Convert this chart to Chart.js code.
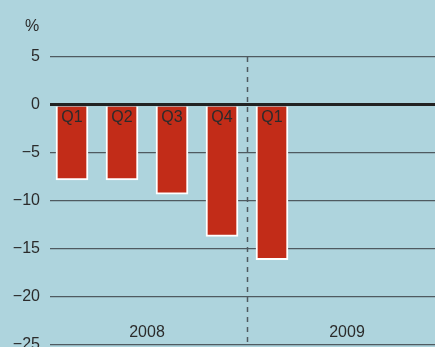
<!DOCTYPE html>
<html>
<head>
<meta charset="utf-8">
<script src="https://cdn.jsdelivr.net/npm/chart.js@4.4.1/dist/chart.umd.min.js"></script>
<style>
  html, body { margin: 0; padding: 0; background: #aed4dd; }
  #wrap { width: 435px; height: 347px; position: relative; }
</style>
</head>
<body>
<div id="wrap"><canvas id="chart1"></canvas></div>
<script>
// quarterly change, %
const quarters = ['Q1', 'Q2', 'Q3', 'Q4', 'Q1'];
const values = [-7.8, -7.8, -9.3, -13.7, -16.1];
const years = ['2008', '2009'];
const yearCenters = [1.5, 5.5];   // in quarter slots
const yearSplit = 3.5;
const yTicks = [5, 0, -5, -10, -15, -20, -25];

const txt = '#2b2b2b';
const fontFam = '"Liberation Sans", Arial, sans-serif';

const extras = {
    id: 'extras',
    afterDatasetsDraw(chart) {
        const c = chart.ctx;
        const xs = chart.scales.x, ys = chart.scales.y;
        const area = chart.chartArea;
        c.save();
        // dashed separator between years
        const sx = Math.round(xs.getPixelForValue(yearSplit)) + 0.5;
        c.strokeStyle = '#4f5a60';
        c.lineWidth = 1.5;
        c.setLineDash([5, 5]);
        c.beginPath();
        c.moveTo(sx, ys.getPixelForValue(5));
        c.lineTo(sx, area.bottom);
        c.stroke();
        c.setLineDash([]);

        c.fillStyle = txt;
        c.font = '16px ' + fontFam;
        c.textAlign = 'center';
        c.textBaseline = 'middle';
        // quarter names inside bars
        const meta = chart.getDatasetMeta(0);
        meta.data.forEach((bar, i) => {
            c.fillText(quarters[i], bar.x, ys.getPixelForValue(0) + 13);
        });
        // year labels
        years.forEach((y, i) => {
            c.fillText(y, xs.getPixelForValue(yearCenters[i]), 333);
        });
        // unit
        c.fillText('%', 32, 27);
        c.restore();
    }
};

new Chart(document.getElementById('chart1'), {
    type: 'bar',
    data: {
        datasets: [{
            data: values.map((v, i) => ({ x: i, y: v })),
            backgroundColor: '#c22c18',
            borderColor: '#ffffff',
            borderWidth: 2,
            barThickness: 32
        }]
    },
    options: {
        responsive: true,
        maintainAspectRatio: false,
        animation: false,
        layout: { padding: { top: 57, bottom: 2, left: 0, right: 0 } },
        plugins: {
            legend: { display: false },
            tooltip: { enabled: false }
        },
        scales: {
            x: {
                type: 'linear',
                offset: false,
                min: -0.44,
                max: 7.26,
                display: false
            },
            y: {
                min: -25,
                max: 5,
                afterBuildTicks: s => { s.ticks = yTicks.map(v => ({ value: v })); },
                afterFit: s => { s.width = 50; s.paddingTop = 0; s.paddingBottom = 0; },
                border: { display: false },
                grid: {
                    drawTicks: false,
                    color: ctx => ctx.tick && ctx.tick.value === 0 ? '#222222' : '#4f5a60',
                    lineWidth: ctx => ctx.tick && ctx.tick.value === 0 ? 3 : 1.3
                },
                ticks: {
                    padding: 10,
                    color: txt,
                    font: { family: fontFam, size: 16 },
                    callback: v => v < 0 ? '\u2212' + Math.abs(v) : String(v)
                }
            }
        }
    },
    plugins: [extras]
});
</script>
</body>
</html>
